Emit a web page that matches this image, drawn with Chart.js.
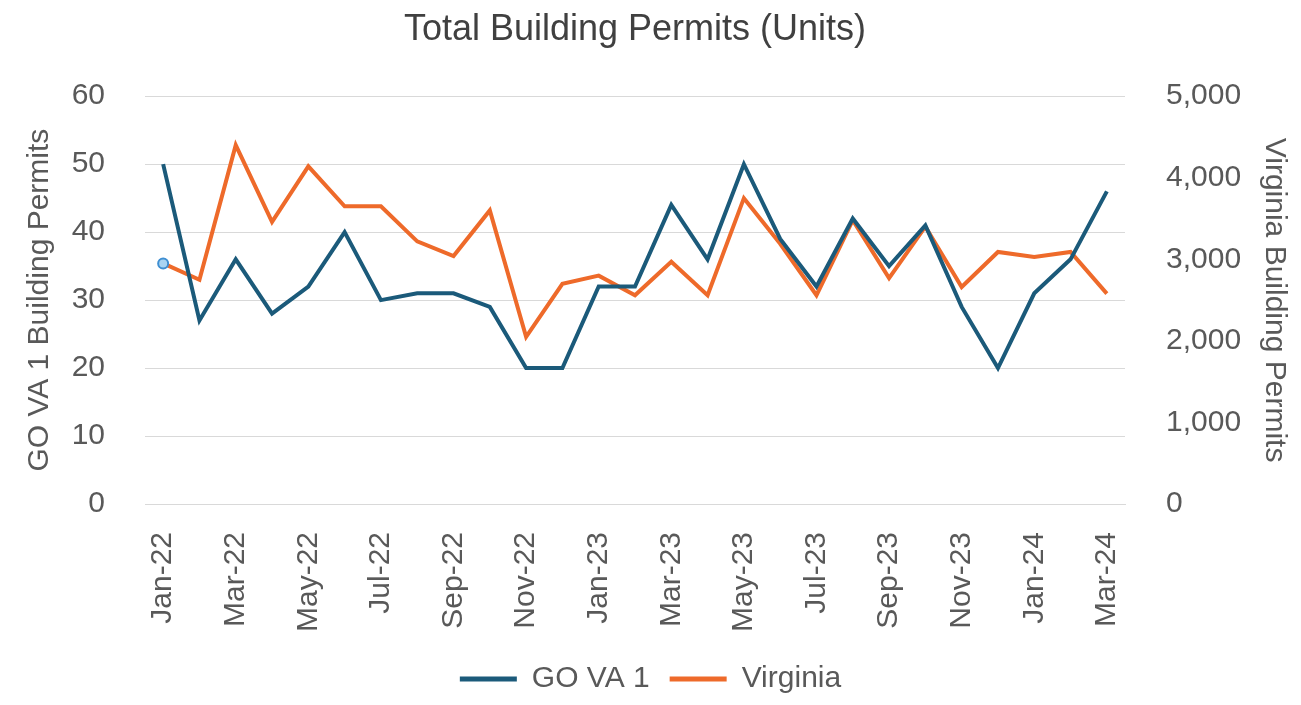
<!DOCTYPE html>
<html>
<head>
<meta charset="utf-8">
<title>Total Building Permits (Units)</title>
<script src="https://cdn.jsdelivr.net/npm/chart.js@4.4.1/dist/chart.umd.min.js"></script>
<style>
    html, body { margin: 0; padding: 0; background: #ffffff; }
    #wrap { width: 1301px; height: 705px; }
</style>
</head>
<body>
<div id="wrap"><canvas id="permitsChart" width="1301" height="705"></canvas></div>
<script>
/* ==========================================================================
   DATA
   ========================================================================== */
const months = [
    "Jan-22", "Feb-22", "Mar-22", "Apr-22", "May-22", "Jun-22", "Jul-22", "Aug-22", "Sep-22",
    "Oct-22", "Nov-22", "Dec-22", "Jan-23", "Feb-23", "Mar-23", "Apr-23", "May-23", "Jun-23",
    "Jul-23", "Aug-23", "Sep-23", "Oct-23", "Nov-23", "Dec-23", "Jan-24", "Feb-24", "Mar-24"
];

// GO VA 1 region (left axis)
const goVa1 = [50, 27, 36, 28, 32, 40, 30, 31, 31, 29, 20, 20, 32, 32, 44, 36, 50, 39, 32, 42, 35, 41, 29, 20, 31, 36, 46];

// Virginia statewide (right axis)
const virginia = [2950, 2750, 4400, 3460, 4140, 3650, 3650, 3220, 3040, 3600, 2050, 2700, 2800, 2560, 2970, 2560,
    3750, 3190, 2560, 3480, 2770, 3400, 2660, 3090, 3030, 3090, 2580];

const FONT = "'Liberation Sans Narrow', 'Arial Narrow', 'Liberation Sans', Arial, sans-serif";
const TEXT_COLOR = "#595959";
const GRID_COLOR = "#d9d9d9";

/* ==========================================================================
   CHART
   ========================================================================== */
document.addEventListener("DOMContentLoaded", () => {
    const ctx = document.getElementById("permitsChart").getContext("2d");

    new Chart(ctx, {
        type: "line",
        data: {
            labels: months,
            datasets: [
                {
                    label: "GO VA 1",
                    data: goVa1,
                    yAxisID: "y",
                    borderColor: "#1b5a7a",
                    backgroundColor: "#1b5a7a",
                    borderWidth: 4,
                    pointRadius: 0,
                    tension: 0
                },
                {
                    label: "Virginia",
                    data: virginia,
                    yAxisID: "y1",
                    borderColor: "#ee6a2a",
                    backgroundColor: "#ee6a2a",
                    borderWidth: 4,
                    // lone marker on the first point, as in the source chart
                    pointRadius: virginia.map((v, i) => (i === 0 ? 5 : 0)),
                    pointBackgroundColor: "#a9d4f2",
                    pointBorderColor: "#3f8fd2",
                    pointBorderWidth: 2,
                    tension: 0
                }
            ]
        },
        options: {
            responsive: false,
            animation: false,
            layout: { padding: { left: 0, right: 0, top: 0, bottom: 1 } },
            plugins: {
                title: {
                    display: true,
                    fullSize: false,
                    text: "Total Building Permits (Units)",
                    color: "#404040",
                    font: { family: FONT, size: 36, weight: "normal" },
                    padding: { top: 8, bottom: 45 }
                },
                legend: {
                    position: "bottom",
                    labels: {
                        color: TEXT_COLOR,
                        font: { family: FONT, size: 30 },
                        boxWidth: 57,
                        boxHeight: 5,
                        padding: 20,
                        generateLabels: (chart) =>
                            Chart.defaults.plugins.legend.labels.generateLabels(chart).map(item => {
                                item.lineWidth = 0;
                                return item;
                            })
                    }
                },
                tooltip: { enabled: false }
            },
            scales: {
                x: {
                    offset: true,
                    grid: { display: false },
                    border: { display: true, color: GRID_COLOR, width: 1 },
                    ticks: {
                        autoSkip: false,
                        maxRotation: 90,
                        minRotation: 90,
                        color: TEXT_COLOR,
                        font: { family: FONT, size: 30 },
                        padding: 20,
                        callback: function (value, index) {
                            return index % 2 === 0 ? this.getLabelForValue(value) : "";
                        }
                    },
                    afterFit: (scale) => { scale.height = 140; }
                },
                y: {
                    position: "left",
                    min: 0,
                    max: 60,
                    grid: { color: GRID_COLOR, lineWidth: 1, drawTicks: false },
                    border: { display: false },
                    ticks: {
                        stepSize: 10,
                        color: TEXT_COLOR,
                        font: { family: FONT, size: 30 },
                        padding: 40
                    },
                    title: {
                        display: true,
                        text: "GO VA 1 Building Permits",
                        color: TEXT_COLOR,
                        font: { family: FONT, size: 30 },
                        padding: { top: 22, bottom: 14 }
                    },
                    afterFit: (scale) => { scale.width = 145; }
                },
                y1: {
                    position: "right",
                    min: 0,
                    max: 5000,
                    grid: { display: false, drawOnChartArea: false },
                    border: { display: false },
                    ticks: {
                        stepSize: 1000,
                        color: TEXT_COLOR,
                        font: { family: FONT, size: 30 },
                        padding: 33,
                        callback: (v) => v.toLocaleString("en-US")
                    },
                    title: {
                        display: true,
                        text: "Virginia Building Permits",
                        color: TEXT_COLOR,
                        font: { family: FONT, size: 30 },
                        padding: { top: 9, bottom: 23 }
                    },
                    afterFit: (scale) => { scale.width = 176; }
                }
            }
        }
    });
});
</script>
</body>
</html>
